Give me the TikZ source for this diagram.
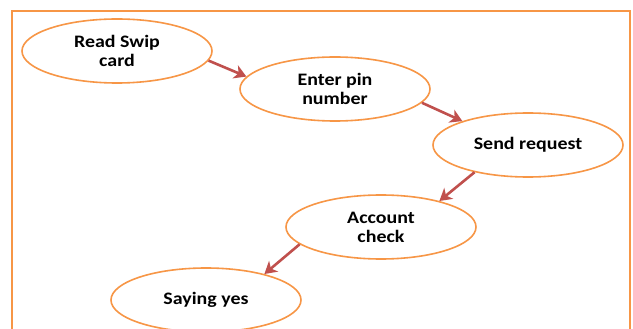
\documentclass[tikz,border=0pt]{standalone}
\usepackage{fontspec}
\setmainfont{Carlito}[FakeStretch=1.14]
\usetikzlibrary{shapes.geometric,arrows.meta}
\definecolor{frameorange}{HTML}{F79646}
\definecolor{arrowred}{HTML}{C0504D}
\begin{document}
\begin{tikzpicture}[x=1pt,y=-1pt,
  stage/.style={ellipse,draw=frameorange,line width=1.6pt,minimum width=190pt,
    minimum height=64pt,inner sep=0pt,align=center,
    font=\fontsize{17.5}{19}\selectfont\bfseries},
  flow/.style={draw=arrowred,line width=2.6pt,
    -{Stealth[length=12pt,width=14pt,inset=3.5pt]}}]
\clip (0,0) rectangle (633,329);
\fill[white] (0,0) rectangle (633,329);
\draw[frameorange,line width=2pt] (12,11) rectangle (630,345);

\node[stage] (read) at (117,51) {Read Swip\\card};
\node[stage] (pin) at (335,89) {Enter pin\\number};
\node[stage] (send) at (528,145) {Send request};
\node[stage] (acct) at (381,227) {Account\\check};
\node[stage] (yes) at (206,300) {Saying yes};

\draw[flow] (read.-6) -- (pin.172);
\draw[flow] (pin.-9) -- (send.160);
\draw[flow] (send.207) -- (acct.24);
\draw[flow] (acct.192) -- (yes.24);
\end{tikzpicture}
\end{document}
